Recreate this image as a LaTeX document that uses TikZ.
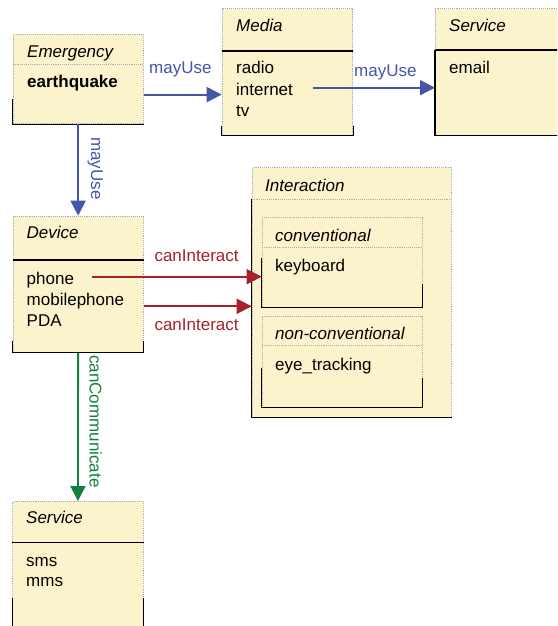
\documentclass[tikz,border=0pt]{standalone}
\usepackage{fontspec}
\setmainfont{Liberation Sans}
\usetikzlibrary{arrows.meta}
\definecolor{boxfill}{HTML}{FBF3CB}
\definecolor{useblue}{HTML}{4456AA}
\definecolor{actred}{HTML}{A8202C}
\definecolor{comgreen}{HTML}{148040}
\begin{document}
\begin{tikzpicture}[x=1pt, y=-1pt,
  umlbox/.style={anchor=north west, inner sep=0pt, fill=boxfill, draw=gray!65, densely dotted, line width=0.9pt},
  rim/.style={black, line width=1.1pt},
  seprule/.style={gray!65, densely dotted, line width=0.9pt},
  txt/.style={anchor=base west, inner sep=0pt, font=\fontsize{17}{21}\selectfont},
  head/.style={txt, font=\fontsize{17}{21}\selectfont\itshape},
  rel/.style={line width=1.8pt, -{Triangle[length=15pt,width=15pt]}}]
\useasboundingbox (0,0) rectangle (557,626);
\clip (0,0) rectangle (557,626);
\node[umlbox, minimum width=130pt, minimum height=89.3pt] (emergency) at (12.7,34) {};
\draw[seprule] (emergency.west |- 0,64.3) -- (emergency.east |- 0,64.3);
\draw[rim] ([yshift=25pt]emergency.south west) -- (emergency.south west) -- (emergency.south east);
\node[head] (emergencyhead) at (27,58) {Emergency};
\node[txt] (earthquake) at (27,87) {\bfseries earthquake};
\node[umlbox, minimum width=130.6pt, minimum height=126.7pt] (media) at (221.7,8.3) {};
\draw[rim] (media.west |- 0,51) -- (media.east |- 0,51);
\draw[rim] ([yshift=10pt]media.south west) -- (media.south west) -- (media.south east) -- ([yshift=10pt]media.south east);
\node[head] (mediahead) at (236,32) {Media};
\node[txt] (radio) at (236,74) {radio};
\node[txt] (internet) at (236,95) {internet};
\node[txt] (tv) at (236,116) {tv};
\node[umlbox, minimum width=140pt, minimum height=126.7pt] (mail) at (435,8.3) {};
\draw[rim] (mail.west |- 0,50) -- (mail.east |- 0,50);
\draw[rim] (mail.west |- 0,50) -- (mail.south west) -- (mail.south east);
\node[head] (mailhead) at (449,32) {Service};
\node[txt] (email) at (449,74) {email};
\node[umlbox, minimum width=130pt, minimum height=136.3pt] (device) at (12.7,215.7) {};
\draw[rim] (device.west |- 0,260) -- (device.east |- 0,260);
\draw[rim] ([yshift=12pt]device.south west) -- (device.south west) -- (device.south east) -- ([yshift=12pt]device.south east);
\node[head] (devicehead) at (26.5,238.3) {Device};
\node[txt] (phone) at (26.5,284.3) {phone};
\node[txt] (mobilephone) at (26.5,305.7) {mobilephone};
\node[txt] (pda) at (26.5,326.7) {PDA};
\node[umlbox, minimum width=199pt, minimum height=249.4pt] (interaction) at (251.7,167.3) {};
\draw[seprule] (interaction.west |- 0,199.3) -- (interaction.east |- 0,199.3);
\draw[rim] (interaction.west |- 0,199.3) -- (interaction.south west) -- (interaction.south east);
\node[head] (interactionhead) at (265,191) {Interaction};
\node[umlbox, minimum width=160pt, minimum height=89.4pt] (conventional) at (261.7,217.3) {};
\draw[seprule] (conventional.west |- 0,247.3) -- (conventional.east |- 0,247.3);
\draw[rim] ([yshift=50pt]conventional.south west) -- (conventional.south west) -- (conventional.south east) -- ([yshift=24pt]conventional.south east);
\node[head] (conventionalhead) at (275,241) {conventional};
\node[txt] (keyboard) at (275,271) {keyboard};
\node[umlbox, minimum width=160pt, minimum height=91pt] (nonconventional) at (261.7,315.7) {};
\draw[seprule] (nonconventional.west |- 0,345.7) -- (nonconventional.east |- 0,345.7);
\draw[rim] ([yshift=40pt]nonconventional.south west) -- (nonconventional.south west) -- (nonconventional.south east) -- ([yshift=30pt]nonconventional.south east);
\node[head] (nonconventionalhead) at (275,339.3) {non-conventional};
\node[txt] (eyetracking) at (275,370.7) {eye\_tracking};
\node[umlbox, minimum width=130.4pt, minimum height=140pt] (messaging) at (12.3,501) {};
\draw[rim] (messaging.west |- 0,542.3) -- (messaging.east |- 0,542.3);
\draw[rim] (messaging.south west |- 0,598) -- (messaging.south west);
\draw[rim] (messaging.south east |- 0,598) -- (messaging.south east);
\node[head] (messaginghead) at (26,523.3) {Service};
\node[txt] (sms) at (26,566) {sms};
\node[txt] (mms) at (26,586.7) {mms};
\draw[rel, useblue] ([yshift=-15.5pt]emergency.east) coordinate (emergencyout) -- (emergencyout -| media.west);
\node[txt, useblue] (mayuseone) at (149,74) {mayUse};
\coordinate (internetout) at (312.7,87.7);
\draw[rel, useblue] (internetout) -- (internetout -| mail.west);
\node[txt, useblue] (mayusetwo) at (354,76.7) {mayUse};
\draw[rel, useblue] (emergency.south) -- (device.north);
\node[txt, useblue, rotate=-90] (mayusethree) at (91,137) {mayUse};
\coordinate (phoneout) at (91.7,276.7);
\draw[rel, actred] (phoneout) -- (phoneout -| conventional.west);
\node[txt, actred] (caninteractone) at (154.3,261.7) {canInteract};
\draw[rel, actred] ([yshift=-22pt]device.east) coordinate (deviceout) -- (deviceout -| interaction.west);
\node[txt, actred] (caninteracttwo) at (154.3,330) {canInteract};
\draw[rel, comgreen] (device.south) -- (messaging.north);
\node[txt, comgreen, rotate=-90] (cancommunicate) at (89.5,355) {canCommunicate};
\end{tikzpicture}
\end{document}
